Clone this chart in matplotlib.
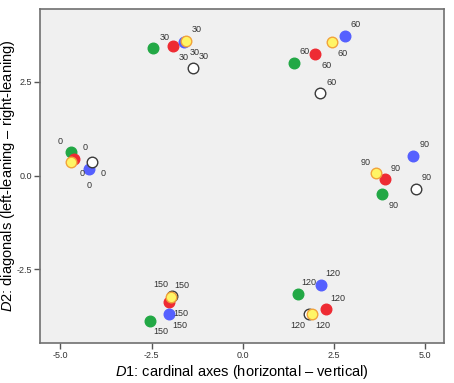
import matplotlib
matplotlib.use('Agg')
import matplotlib.pyplot as plt

plt.rcParams.update({
    'font.family': 'Liberation Sans',
    'mathtext.fontset': 'custom',
    'mathtext.rm': 'Liberation Sans',
    'mathtext.it': 'Liberation Sans:italic',
})

# stimulus orientations (label of each point group)
groups = ['0', '30', '60', '90', '120', '150']

# coordinates per series, in group order
green_x = [-4.70, -2.45, 1.41, 3.84, 1.52, -2.54]
green_y = [0.62, 3.39, 3.00, -0.49, -3.16, -3.87]
red_x = [-4.63, -1.91, 1.99, 3.90, 2.30, -2.01]
red_y = [0.45, 3.45, 3.24, -0.10, -3.57, -3.37]
blue_x = [-4.21, -1.62, 2.80, 4.68, 2.16, -2.02]
blue_y = [0.18, 3.57, 3.73, 0.52, -2.92, -3.69]
white_x = [-4.13, -1.37, 2.13, 4.75, 1.81, -1.95]
white_y = [0.36, 2.87, 2.19, -0.36, -3.69, -3.21]
yellow_x = [-4.70, -1.56, 2.45, 3.67, 1.90, -1.97]
yellow_y = [0.35, 3.59, 3.56, 0.06, -3.69, -3.23]

# label offsets (points) for each series, per group
UR, LR, UL, LL, DN = (8, 8), (8, -8), (-8, 8), (-8, -8), (0, -12)
green_off = [UL, UR, UR, LR, UR, LR]
red_off = [UR, LR, LR, UR, UR, LR]
blue_off = [DN, LR, UR, UR, UR, LR]
white_off = [LR, UR, UR, UR, LL, UL]
yellow_off = [LR, UR, LR, UL, LR, UR]

series = [
    (green_x, green_y, green_off, '#22a845', '#22a845'),
    (red_x, red_y, red_off, '#ee2b33', '#ee2b33'),
    (blue_x, blue_y, blue_off, '#5560ff', '#5560ff'),
    (white_x, white_y, white_off, '#ffffff', '#3a3a3a'),
    (yellow_x, yellow_y, yellow_off, '#fff566', '#f2a33a'),
]

fig = plt.figure(figsize=(4.54, 3.83), dpi=100)
ax = fig.add_axes([0.089, 0.105, 0.889, 0.8715])
ax.set_facecolor('#f0f0f0')

for i, (xs, ys, offs, fc, ec) in enumerate(series):
    ax.scatter(xs, ys, s=58, facecolor=fc, edgecolor=ec, linewidth=1.0,
               zorder=3 + i)
    for x, y, lab, off in zip(xs, ys, groups, offs):
        ax.annotate(lab, (x, y), xytext=off, textcoords='offset points',
                    ha='center', va='center', fontsize=6.5, color='#333333',
                    zorder=10)

ax.set_xlim(-5.55, 5.53)
ax.set_ylim(-4.46, 4.44)
ax.set_xticks([-5.0, -2.5, 0.0, 2.5, 5.0])
ax.set_yticks([-2.5, 0.0, 2.5])
ax.set_xticklabels(['-5.0', '-2.5', '0.0', '2.5', '5.0'])
ax.set_yticklabels(['-2.5', '0.0', '2.5'])
ax.tick_params(labelsize=6.5, colors='#555555', labelcolor='#333333',
               length=4, width=1, pad=2)
for sp in ax.spines.values():
    sp.set_color('#707070')
    sp.set_linewidth(1.2)

ax.set_xlabel(r'$\mathit{D}$1: cardinal axes (horizontal – vertical)',
              fontsize=10.5, labelpad=2)
ax.set_ylabel(r'$\mathit{D}$2: diagonals (left-leaning – right-leaning)',
              fontsize=10.5)
ax.yaxis.set_label_coords(-0.058, 0.5)

fig.savefig('out.png', dpi=100)
